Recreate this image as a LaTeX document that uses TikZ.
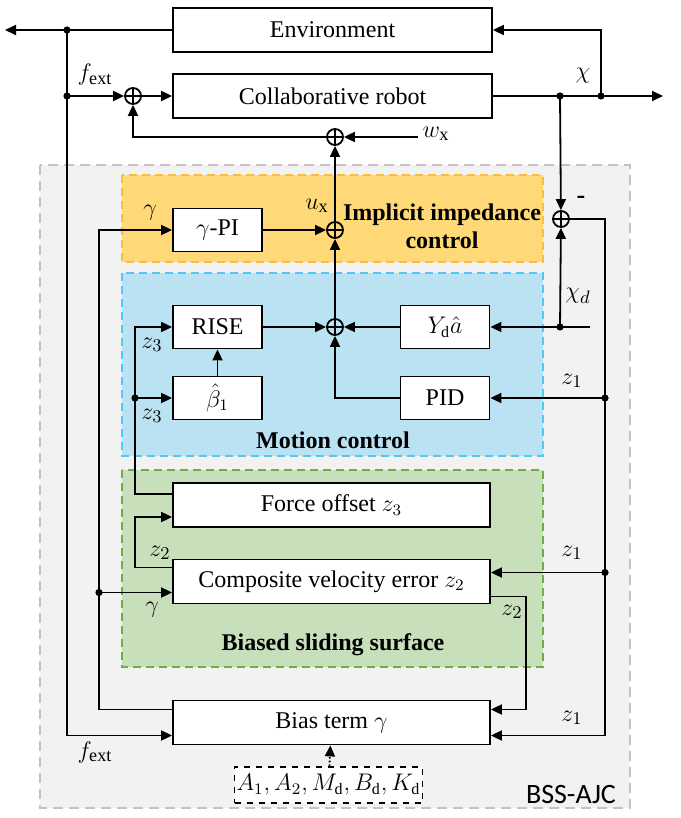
\documentclass[tikz,border=0pt]{standalone}
\usepackage{fontspec}
\setmainfont{Liberation Serif}
\newfontfamily\carlito{Carlito}
\usetikzlibrary{arrows.meta,calc}
\definecolor{orfill}{RGB}{255,217,120}
\definecolor{ordraw}{RGB}{250,190,60}
\definecolor{blfill}{RGB}{187,226,242}
\definecolor{bldraw}{RGB}{80,200,245}
\definecolor{grfill}{RGB}{200,223,187}
\definecolor{grdraw}{RGB}{112,173,71}
\definecolor{gyfill}{RGB}{242,242,242}
\definecolor{gydraw}{RGB}{195,195,195}
\tikzset{
  blk/.style={draw,line width=0.9pt,fill=white,inner sep=2pt},
  wide/.style={minimum width=159.5pt,minimum height=22pt},
  smallb/.style={minimum width=44.5pt,minimum height=21.5pt},
  longb/.style={minimum width=158.5pt,minimum height=22pt},
  sumc/.style={circle,draw,line width=0.9pt,minimum size=8pt,inner sep=0pt,
    path picture={\draw[line width=0.7pt] (path picture bounding box.north) -- (path picture bounding box.south)
      (path picture bounding box.west) -- (path picture bounding box.east);}},
  conn/.style={line width=0.9pt},
  arr/.style={line width=0.9pt,-{Triangle[length=5.5pt,width=5pt]}},
  dotted arr/.style={line width=0.9pt,densely dotted,-{Triangle[length=5.5pt,width=5pt]}},
  lbl/.style={inner sep=0pt,font=\fontsize{13}{15}\selectfont},
  region/.style={line width=0.8pt,dash pattern=on 4pt off 2.5pt},
  title/.style={font=\fontsize{12}{14}\selectfont\bfseries,align=center}
}
\begin{document}
\begin{tikzpicture}[x=0.5pt,y=-0.5pt,every node/.style={font=\fontsize{12}{14}\selectfont}]
\useasboundingbox (0,0) rectangle (680,818);
% regions
\draw[region,draw=gydraw,fill=gyfill,line width=1.1pt,dash pattern=on 5pt off 3pt] (40,165) rectangle (630,808);
\draw[region,draw=ordraw,fill=orfill] (122,175) rectangle (543,262);
\draw[region,draw=bldraw,fill=blfill] (122,273) rectangle (543,456);
\draw[region,draw=grdraw,fill=grfill] (122,470) rectangle (543,667);
% region titles
\node[title] (tImp) at (442,226) {Implicit impedance\\control};
\node[title] (tMot) at (333,440) {Motion control};
\node[title] (tBia) at (333,645) {Biased sliding surface};
\node[font=\fontsize{14}{16}\carlito] (tBss) at (571,795) {BSS-AJC};
% blocks
\node[blk,wide] (env) at (332.5,30) {Environment};
\node[blk,wide] (rob) at (332.5,96) {Collaborative robot};
\node[blk,smallb] (gpi) at (217.5,230) {$\gamma$-PI};
\node[blk,smallb] (rise) at (217.5,327) {RISE};
\node[blk,smallb] (beta) at (217.5,398) {$\hat{\beta}_1$};
\node[blk,smallb] (yd) at (445,327) {$Y_{\mathrm{d}}\hat{a}$};
\node[blk,smallb] (pid) at (445,398) {PID};
\node[blk,longb] (force) at (331.5,505) {Force offset $z_3$};
\node[blk,longb] (comp) at (331.5,581.5) {Composite velocity error $z_2$};
\node[blk,longb] (bias) at (331.5,722.5) {Bias term $\gamma$};
\node[draw,line width=0.8pt,dashed,fill=white,minimum width=91.5pt,minimum height=18pt,inner sep=1pt] (par) at (328.5,785) {$A_1, A_2, M_{\mathrm{d}}, B_{\mathrm{d}}, K_{\mathrm{d}}$};
% summing junctions
\node[sumc] (s1) at (133,96) {};
\node[sumc] (s2) at (335,137) {};
\node[sumc] (s3) at (335,230) {};
\node[sumc] (s4) at (561,219) {};
\node[sumc] (s5) at (335,327) {};
% coordinates
\coordinate (outL) at (5,30);
\coordinate (outR) at (663,96);
\coordinate (dA) at (67,30);
\coordinate (dB) at (67,96);
\coordinate (dC) at (560,96);
\coordinate (dD) at (601,96);
\coordinate (wx) at (418,137);
\coordinate (chid) at (590,327);
\coordinate (dE) at (560,327);
\coordinate (rR) at (605,219);
\coordinate (dF) at (605,398);
\coordinate (dG) at ([yshift=4.5pt]comp.east -| rR);
\coordinate (gL) at (99,230);
\coordinate (dH) at ([yshift=-5.5pt]comp.west -| gL);
\coordinate (zL) at (135,327);
\coordinate (dI) at (135,398);
% connectors
\draw[arr] (env.west) -- (outL);
\draw[conn] (dA) -- (dB);
\draw[arr] (dB) |- ([yshift=-6.5pt]bias.west);
\draw[arr] (dB) -- (s1);
\draw[arr] (s1) -- (rob);
\draw[arr] (rob.east) -- (outR);
\draw[arr] (dD) |- (env.east);
\draw[arr] (dC) -- (s4);
\draw[arr] (wx) -- (s2);
\draw[arr] (s2) -| (s1);
\draw[arr] (s3) -- (s2);
\draw[arr] (gpi) -- (s3);
\draw[arr] ([yshift=6.5pt]bias.west) -| (gL) -- (gpi);
\draw[arr] (dH) -- ([yshift=-5.5pt]comp.west);
\draw[arr] (s5) -- (s3);
\draw[arr] (rise) -- (s5);
\draw[arr] (yd) -- (s5);
\draw[arr] (pid) -| (s5);
\draw[arr] (chid) -- (yd);
\draw[arr] (dE) -- (s4);
\draw[arr] (s4) -- (rR) -- ([yshift=-6.5pt]bias.east -| rR) -- ([yshift=-6.5pt]bias.east);
\draw[arr] (dF) -- (pid);
\draw[arr] (dG) -- ([yshift=4.5pt]comp.east);
\draw[arr] ([yshift=5.5pt]force.west) -| (zL) -- (rise);
\draw[arr] (dI) -- (beta);
\draw[arr] ([yshift=7pt]comp.west) -| (135,517) -- ([yshift=-6pt]force.west);
\draw[arr] ([yshift=-7.5pt]comp.east) -| (526,709.5) -- ([yshift=6.5pt]bias.east);
\draw[arr] (beta) -- (rise);
\draw[dotted arr] (par) -- (bias);
% dots
\foreach \p in {dA,dB,dC,dD,dE,dF,dG,dH,dI} \fill (\p) circle (1.8pt);
% labels
\node[lbl] (lf1) at (95,75) {$f_{\mathrm{ext}}$};
\node[lbl] (lf2) at (95,752) {$f_{\mathrm{ext}}$};
\node[lbl] (lchi) at (583,76) {$\chi$};
\node[lbl] (lwx) at (436,134) {$w_{\mathrm{x}}$};
\node[lbl] (lux) at (317,206) {$u_{\mathrm{x}}$};
\node[lbl] (lg1) at (150,213) {$\gamma$};
\node[lbl] (lmin) at (581,200) {\textbf{-}};
\node[lbl] (lchid) at (578,296) {$\chi_d$};
\node[lbl] (lz3a) at (152,345) {$z_3$};
\node[lbl] (lz3b) at (152,416) {$z_3$};
\node[lbl] (lz1a) at (572,381) {$z_1$};
\node[lbl] (lz2a) at (160,553) {$z_2$};
\node[lbl] (lg2) at (152,610) {$\gamma$};
\node[lbl] (lz1b) at (572,553) {$z_1$};
\node[lbl] (lz2b) at (512,612) {$z_2$};
\node[lbl] (lz1c) at (572,718) {$z_1$};
\end{tikzpicture}
\end{document}
